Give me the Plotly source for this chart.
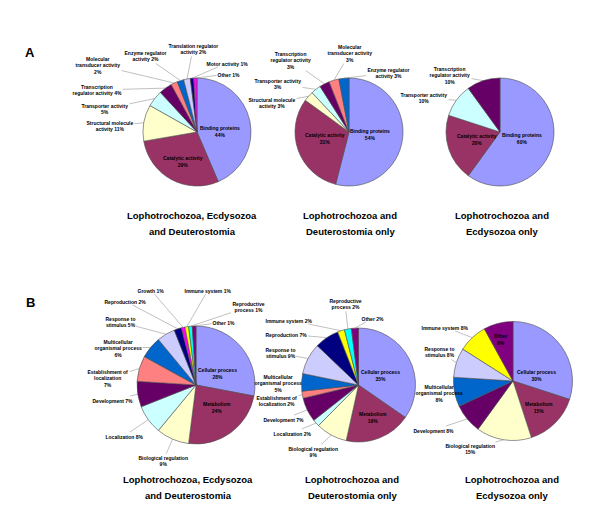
import math
import plotly.graph_objects as go

W, H = 600, 516

# ---------------- data ----------------
# Panel A : molecular function
a1_labels = ['Binding proteins', 'Catalytic activity', 'Structural molecule activity',
             'Transporter activity', 'Transcription regulator activity',
             'Molecular transducer activity', 'Enzyme regulator activity',
             'Translation regulator activity', 'Motor activity', 'Other']
a1_values = [44, 29, 11, 5, 4, 2, 2, 2, 1, 1]

a2_labels = ['Binding proteins', 'Catalytic activity', 'Structural molecule activity',
             'Transporter activity', 'Transcription regulator activity',
             'Molecular transducer activity', 'Enzyme regulator activity']
a2_values = [54, 31, 3, 3, 3, 3, 3]

a3_labels = ['Binding proteins', 'Catalytic activity', 'Transporter activity',
             'Transcription regulator activity']
a3_values = [60, 20, 10, 10]

# Panel B : biological process
b1_labels = ['Cellular process', 'Metabolism', 'Biological regulation', 'Localization',
             'Development', 'Establishment of localization',
             'Multicellular organismal process', 'Response to stimulus', 'Reproduction',
             'Growth', 'Immune system', 'Reproductive process', 'Other']
b1_values = [28, 24, 9, 8, 7, 7, 6, 5, 2, 1, 1, 1, 1]

b2_labels = ['Cellular process', 'Metabolism', 'Biological regulation', 'Localization',
             'Development', 'Establishment of localization',
             'Multicellular organismal process', 'Response to stimulus', 'Reproduction',
             'Immune system', 'Reproductive process', 'Other']
b2_values = [35, 19, 9, 2, 7, 2, 5, 9, 7, 2, 2, 2]

b3_labels = ['Cellular process', 'Metabolism', 'Biological regulation', 'Development',
             'Multicellular organismal process', 'Response to stimulus',
             'Immune system', 'Other']
b3_values = [30, 15, 15, 8, 8, 8, 8, 8]

group_titles = [['Lophotrochozoa, Ecdysozoa', 'and Deuterostomia'],
                ['Lophotrochozoa and', 'Deuterostomia only'],
                ['Lophotrochozoa and', 'Ecdysozoa only']]

# ---------------- styles ----------------
mf_colors = {
    'Binding proteins': '#9999FF', 'Catalytic activity': '#993366',
    'Structural molecule activity': '#FFFFCC', 'Transporter activity': '#CCFFFF',
    'Transcription regulator activity': '#660066',
    'Molecular transducer activity': '#FF8080',
    'Enzyme regulator activity': '#0066CC',
    'Translation regulator activity': '#CCCCFF', 'Motor activity': '#000080',
    'Other': '#FF00FF'}
bp_colors = {
    'Cellular process': '#9999FF', 'Metabolism': '#993366',
    'Biological regulation': '#FFFFCC', 'Localization': '#CCFFFF',
    'Development': '#660066', 'Establishment of localization': '#FF8080',
    'Multicellular organismal process': '#0066CC', 'Response to stimulus': '#CCCCFF',
    'Reproduction': '#000080', 'Growth': '#FF00FF', 'Immune system': '#FFFF00',
    'Reproductive process': '#00FFFF', 'Other': '#800080'}

FONT = 'Liberation Sans, Arial, sans-serif'

# label layout per pie: (format, x_px, y_px, inside)
a1_layout = [
    ('Binding proteins<br>{}%', 220, 131, True),
    ('Catalytic activity<br>{}%', 183, 161, True),
    ('Structural molecule<br>activity {}%', 110, 126, False),
    ('Transporter activity<br>{}%', 105, 109, False),
    ('Transcription<br>regulator activity {}%', 97, 90, False),
    ('Molecular<br>transducer activity<br>{}%', 98, 65, False),
    ('Enzyme regulator<br>activity {}%', 145, 56, False),
    ('Translation regulator<br>activity {}%', 193, 49, False),
    ('Motor activity {}%', 227, 63, False),
    ('Other {}%', 229, 74, False)]
a2_layout = [
    ('Binding proteins<br>{}%', 370, 134, True),
    ('Catalytic activity<br>{}%', 325, 138, True),
    ('Structural molecule<br>activity {}%', 272, 103, False),
    ('Transporter activity<br>{}%', 278, 84, False),
    ('Transcription<br>regulator activity<br>{}%', 291, 60, False),
    ('Molecular<br>transducer activity<br>{}%', 350, 53, False),
    ('Enzyme regulator<br>activity {}%', 388, 73, False)]
a3_layout = [
    ('Binding proteins<br>{}%', 522, 138, True),
    ('Catalytic activity<br>{}%', 477, 139, True),
    ('Transporter activity<br>{}%', 424, 98, False),
    ('Transcription<br>regulator activity<br>{}%', 450, 75, False)]
b1_layout = [
    ('Cellular process<br>{}%', 217, 373, True),
    ('Metabolism<br>{}%', 217, 407, True),
    ('Biological regulation<br>{}%', 163, 461, False),
    ('Localization {}%', 124, 436, False),
    ('Development {}%', 113, 400, False),
    ('Establishment of<br>localization<br>{}%', 108, 378, False),
    ('Multicellular<br>organismal process<br>{}%', 118, 348, False),
    ('Response to<br>stimulus {}%', 120, 322, False),
    ('Reproduction {}%', 125, 301, False),
    ('Growth {}%', 151, 290, False),
    ('Immune system {}%', 208, 290, False),
    ('Reproductive<br>process {}%', 248, 307, False),
    ('Other {}%', 224, 322, False)]
b2_layout = [
    ('Cellular process<br>{}%', 380, 375, True),
    ('Metabolism<br>{}%', 373, 417, True),
    ('Biological regulation<br>{}%', 313, 452, False),
    ('Localization {}%', 292, 433, False),
    ('Development {}%', 284, 419, False),
    ('Establishment of<br>localization {}%', 277, 401, False),
    ('Multicellular<br>organismal process<br>{}%', 278, 383, False),
    ('Response to<br>stimulus {}%', 280, 353, False),
    ('Reproduction {}%', 286, 334, False),
    ('Immune system {}%', 289, 320, False),
    ('Reproductive<br>process {}%', 345, 304, False),
    ('Other {}%', 373, 318, False)]
b3_layout = [
    ('Cellular process<br>{}%', 536, 375, True),
    ('Metabolism<br>{}%', 539, 407, True),
    ('Biological regulation<br>{}%', 470, 449, False),
    ('Development {}%', 434, 430, False),
    ('Multicellular<br>organismal process<br>{}%', 439, 393, False),
    ('Response to<br>stimulus {}%', 439, 352, False),
    ('Immune system {}%', 445, 327, False),
    ('Other<br>{}%', 500, 339, True)]

# pie geometry (centre x, centre y, radius) in pixels
pies = [
    (a1_labels, a1_values, a1_layout, mf_colors, 197, 132, 54),
    (a2_labels, a2_values, a2_layout, mf_colors, 349, 132, 54),
    (a3_labels, a3_values, a3_layout, mf_colors, 500, 132, 54),
    (b1_labels, b1_values, b1_layout, bp_colors, 196, 385, 59),
    (b2_labels, b2_values, b2_layout, bp_colors, 358.5, 385, 57),
    (b3_labels, b3_values, b3_layout, bp_colors, 513, 381, 59.5),
]
title_pos = [(192, 215, 231), (350, 215, 231), (502, 215, 231),
             (188, 479, 495), (352, 479, 495), (512, 479, 495)]

fig = go.Figure()
# invisible cartesian layer used to place annotations in pixel units
fig.add_trace(go.Scatter(x=[], y=[], showlegend=False, hoverinfo='skip'))

annotations = []
lab_font = dict(family=FONT, size=5, color='black', weight='bold')

for labels, values, lay, cmap, cx, cy, R in pies:
    fig.add_trace(go.Pie(
        labels=labels, values=values, sort=False, direction='clockwise', rotation=0,
        marker=dict(colors=[cmap[l] for l in labels], line=dict(color='#4a4a4a', width=0.6)),
        textinfo='none', showlegend=False, hoverinfo='label+percent',
        domain=dict(x=[(cx - R) / W, (cx + R) / W], y=[1 - (cy + R) / H, 1 - (cy - R) / H])))
    total = sum(values)
    cum = 0.0
    for v, (fmt, tx, ty, inside) in zip(values, lay):
        mid = (cum + v / 2) / total * 2 * math.pi
        cum += v
        text = fmt.format(v)
        if inside:
            annotations.append(dict(x=tx, y=ty, xref='x', yref='y', text=text,
                                    showarrow=False, font=lab_font))
        else:
            ex = cx + R * math.sin(mid)
            ey = cy - R * math.cos(mid)
            annotations.append(dict(x=ex, y=ey, xref='x', yref='y', ax=tx, ay=ty,
                                    axref='x', ayref='y', text=text, showarrow=True,
                                    arrowhead=0, arrowwidth=0.5, arrowcolor='#808080',
                                    standoff=0, startstandoff=0, borderpad=0.5,
                                    font=lab_font))

for i, (tx, ty1, ty2) in enumerate(title_pos):
    l1, l2 = group_titles[i % 3]
    for txt, ty in ((l1, ty1), (l2, ty2)):
        annotations.append(dict(x=tx, y=ty, xref='x', yref='y', text=txt, showarrow=False,
                                font=dict(family=FONT, size=9.5, color='black', weight='bold')))

for txt, px, py in (('A', 30, 52), ('B', 30, 302)):
    annotations.append(dict(x=px, y=py, xref='x', yref='y', text=txt, showarrow=False,
                            font=dict(family=FONT, size=13, color='black', weight='bold')))

fig.update_layout(
    width=W, height=H, margin=dict(l=0, r=0, t=0, b=0),
    paper_bgcolor='white', plot_bgcolor='white',
    xaxis=dict(range=[0, W], visible=False, fixedrange=True, domain=[0, 1]),
    yaxis=dict(range=[H, 0], visible=False, fixedrange=True, domain=[0, 1]),
    annotations=annotations, showlegend=False)

# remove the browser's default page margin so pixel positions line up
fig.write_html('out.html', config={'displayModeBar': False},
               post_script="document.body.style.margin='0';document.body.style.overflow='hidden';")
